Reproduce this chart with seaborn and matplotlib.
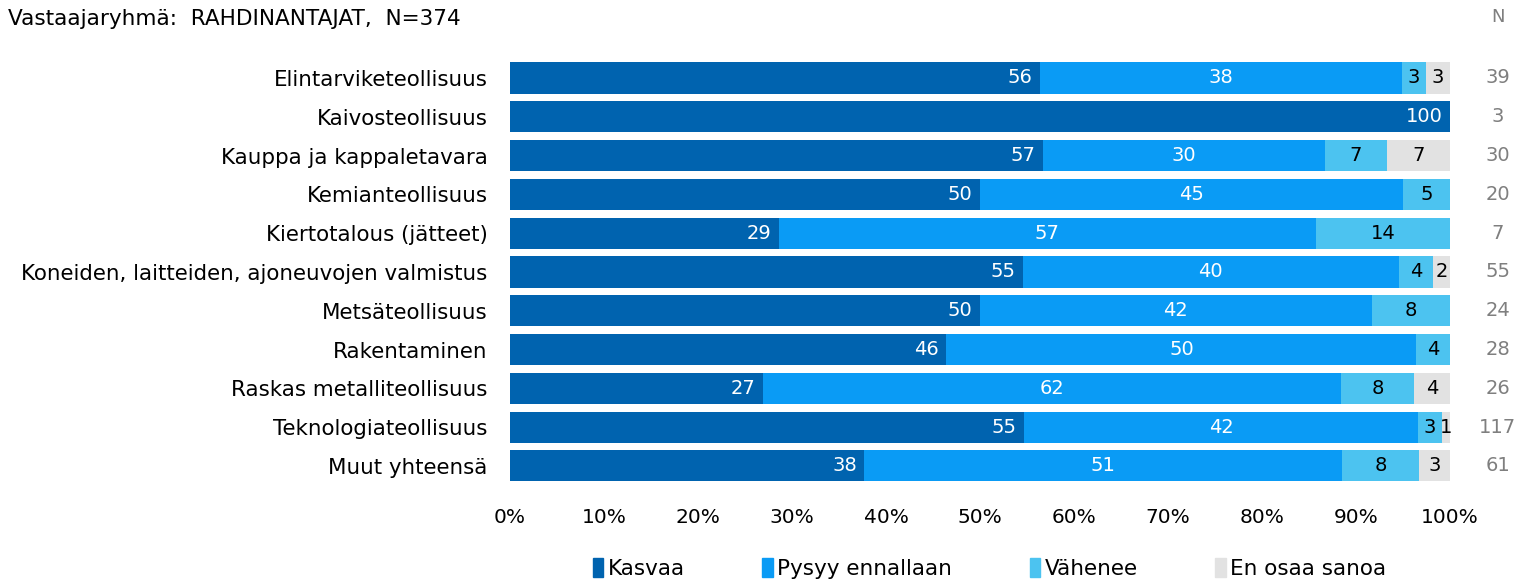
import numpy as np
import pandas as pd
import matplotlib
matplotlib.use("Agg")
import matplotlib.pyplot as plt
import seaborn as sns

categories = [
    "Elintarviketeollisuus",
    "Kaivosteollisuus",
    "Kauppa ja kappaletavara",
    "Kemianteollisuus",
    "Kiertotalous (jätteet)",
    "Koneiden, laitteiden, ajoneuvojen valmistus",
    "Metsäteollisuus",
    "Rakentaminen",
    "Raskas metalliteollisuus",
    "Teknologiateollisuus",
    "Muut yhteensä",
]
kasvaa = [56.41, 100.0, 56.67, 50.0, 28.57, 54.55, 50.0, 46.43, 26.92, 54.70, 37.70]
pysyy = [38.46, 0.0, 30.0, 45.0, 57.14, 40.0, 41.67, 50.0, 61.54, 41.88, 50.82]
vahenee = [2.56, 0.0, 6.67, 5.0, 14.29, 3.64, 8.33, 3.57, 7.69, 2.56, 8.20]
en_osaa = [2.56, 0.0, 6.67, 0.0, 0.0, 1.82, 0.0, 0.0, 3.85, 0.85, 3.28]
n_values = [39, 3, 30, 20, 7, 55, 24, 28, 26, 117, 61]

series_names = ["Kasvaa", "Pysyy ennallaan", "Vähenee", "En osaa sanoa"]
colors = ["#0063AF", "#0A9BF5", "#4CC3F0", "#E2E2E2"]
text_colors = ["white", "white", "black", "black"]

df = pd.DataFrame({"kategoria": categories, "Kasvaa": kasvaa,
                   "Pysyy ennallaan": pysyy, "Vähenee": vahenee,
                   "En osaa sanoa": en_osaa})
cum = df[series_names].cumsum(axis=1)

sns.set_style("white")
plt.rcParams["font.family"] = ["DejaVu Sans"]
plt.rcParams["text.color"] = "black"
plt.rcParams["xtick.color"] = "black"
plt.rcParams["ytick.color"] = "black"

fig = plt.figure(figsize=(15.2, 5.79), dpi=100)
ax = fig.add_axes([0.3355, 0.1617, 0.6184, 0.7371])

# stacked bars: draw cumulative totals from back to front
for name, color in reversed(list(zip(series_names, colors))):
    sns.barplot(x=cum[name], y=df["kategoria"], color=color, orient="h",
                width=0.8, ax=ax, saturation=1, linewidth=0)

# value labels: first segment at its end, the rest centred
for i in range(len(categories)):
    left = 0.0
    for name, tc in zip(series_names, text_colors):
        v = df.loc[i, name]
        if v > 0:
            label = f"{round(v):d}"
            if name == "Kasvaa":
                ax.text(left + v - 0.8, i, label, ha="right", va="center",
                        color=tc, fontsize=14)
            else:
                ax.text(left + v / 2, i, label, ha="center", va="center",
                        color=tc, fontsize=14)
        left += v

# right-hand N column
for i, n in enumerate(n_values):
    ax.text(1.051, i, str(n), transform=ax.get_yaxis_transform(),
            ha="center", va="center", color="#7F7F7F", fontsize=14)
fig.text(0.9855, 0.97, "N", ha="center", va="center", color="#7F7F7F", fontsize=13)

ax.set_xlim(0, 100)
ax.set_ylim(len(categories) - 0.5, -0.5)
ax.set_xticks(np.arange(0, 101, 10))
ax.set_xticklabels([f"{t}%" for t in range(0, 101, 10)], fontsize=14.5)
ax.set_yticks(range(len(categories)))
ax.set_yticklabels(categories, fontsize=15.4)
ax.tick_params(axis="y", length=0, pad=16)
ax.tick_params(axis="x", length=0, pad=16)
ax.set_xlabel("")
ax.set_ylabel("")
sns.despine(ax=ax, left=True, bottom=True)

fig.text(0.005, 0.967, "Vastaajaryhmä:  RAHDINANTAJAT,  N=374",
         ha="left", va="center", fontsize=15.6)

handles = [plt.Rectangle((0, 0), 1, 1, color=c) for c in colors]
fig.legend(handles, series_names, loc="center", bbox_to_anchor=(0.651, 0.018),
           ncol=4, frameon=False, fontsize=15.5, handlelength=0.5,
           handleheight=1.0, handletextpad=0.2, columnspacing=3.6)

fig.savefig("out.png", dpi=100)
